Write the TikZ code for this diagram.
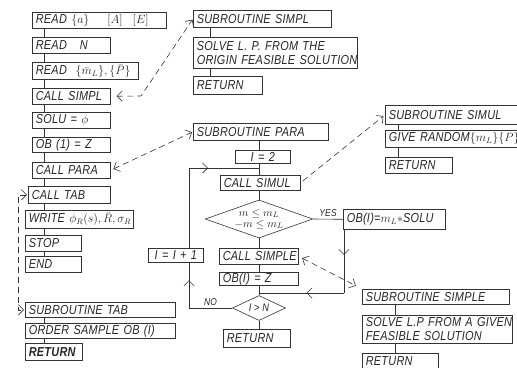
\documentclass[tikz,border=0pt]{standalone}
\usepackage{fontspec}
\newfontfamily\handfont{Liberation Sans}[FakeStretch=0.84,LetterSpace=2]
\usetikzlibrary{arrows.meta,shapes.geometric,decorations.markings}
\newcommand{\handtxt}{\handfont\itshape\fontsize{13}{14}\selectfont}
\newcommand{\mth}[1]{{\fontsize{12}{13}\selectfont$#1$}}

\begin{document}
\begin{tikzpicture}[x=1pt,y=-1pt,
>={Straight Barb[length=1.8mm]},
ink/.style={draw=black!80,line width=0.6pt},
box/.style={ink,text=black!85,anchor=north west,inner xsep=3.5pt,inner ysep=0pt,align=left,font=\handtxt,minimum height=16pt},
cond/.style={ink,text=black!85,diamond,aspect=3,inner sep=0pt,align=center,font=\handfont\itshape\fontsize{11}{11}\selectfont},
call/.style={ink,dash pattern=on 6pt off 4pt},
tag/.style={text=black!85,font=\handfont\itshape\fontsize{10}{10}\selectfont,inner sep=2pt},
flow/.style={ink,postaction={decorate},decoration={markings,mark=at position #1 with {\arrow{>}}}}
]
\useasboundingbox (0,0) rectangle (517,367);

% main program
\node[box,text width=127pt] (rda) at (32,12) {\mbox{READ \mth{\{a\}}\hspace{18pt}\mth{[A]}\hspace{10pt}\mth{[E]}}};
\node[box,text width=71pt] (rdn) at (32,37) {READ \ \ N};
\node[box,text width=99pt,minimum height=17pt] (rdm) at (32,62) {\mbox{READ \ \mth{\{\bar m_L\},\{\bar P\}}}};
\node[box,text width=71pt] (csimpl) at (32,88) {\mbox{CALL SIMPL}};
\node[box,text width=71pt] (solu) at (32,112) {SOLU = \mth{\phi}};
\node[box,text width=71pt,minimum height=15pt] (ob1) at (32,137) {\mbox{OB (1) = Z}};
\node[box,text width=71pt] (cpara) at (32,162) {\mbox{CALL PARA}};
\node[box,text width=75pt,minimum height=17pt] (ctab) at (28,186) {CALL TAB};
\node[box,text width=101pt,minimum height=18pt] (wrt) at (25,210) {\mbox{WRITE \mth{\phi_R(s),\bar R,\sigma_R}}};
\node[box,text width=49pt] (stop) at (25,235) {STOP};
\node[box,text width=49pt] (fin) at (25,256) {END};

% subroutine TAB
\node[box,text width=143pt,minimum height=15pt] (stab) at (25,302) {\mbox{SUBROUTINE TAB}};
\node[box,text width=143pt,minimum height=15pt] (order) at (25,323) {\mbox{ORDER SAMPLE OB (I)}};
\node[box,text width=50pt,minimum height=17pt] (rtab) at (25,343) {\textbf{RETURN}};

% subroutine SIMPL
\node[box,text width=131pt,minimum height=17pt] (ssimpl) at (193,10) {\mbox{SUBROUTINE SIMPL}};
\node[box,text width=157pt,minimum height=31pt] (solve1) at (193,37) {\mbox{SOLVE L. P. FROM THE}\\\mbox{ORIGIN FEASIBLE SOLUTION}};
\node[box,text width=62pt,minimum height=18pt] (rsimpl) at (193,76) {RETURN};

% subroutine PARA
\node[box,text width=128pt,minimum height=17pt] (spara) at (193,123) {\mbox{SUBROUTINE PARA}};
\node[box,text width=48pt,minimum height=13pt,align=center] (i2) at (235,150) {I = 2};
\node[box,text width=73pt,minimum height=15pt] (csimul) at (220,175) {\mbox{CALL SIMUL}};
\node[cond,minimum width=105pt,minimum height=38pt] (lim) at (259,219) {$m\le m_L$\\$-m\le m_L$};
\node[box,text width=95pt,minimum height=20pt] (obm) at (343,209) {\mbox{OB(I)=\mth{m_L\ast}SOLU}};
\node[box,text width=72pt] (csimple) at (219,248) {\mbox{CALL SIMPLE}};
\node[box,text width=72pt,minimum height=13pt] (obz) at (219,272) {\mbox{OB(I) = Z}};
\node[cond,aspect=2.1,minimum width=53pt,minimum height=25pt] (last) at (259,308) {I > N};
\node[box,text width=60pt,minimum height=18pt] (rpara) at (223,329) {RETURN};
\node[box,text width=48pt,minimum height=14pt,align=center] (inc) at (148,248) {\mbox{I = I + 1}};

% subroutine SIMUL
\node[box,text width=128pt,minimum height=19pt] (ssimul) at (385,105) {\mbox{SUBROUTINE SIMUL}};
\node[box,text width=128pt,minimum height=17pt] (give) at (385,130) {\mbox{GIVE RANDOM\mth{\{m_L\}\{P\}}}};
\node[box,text width=60pt] (rsimul) at (385,157) {RETURN};

% subroutine SIMPLE
\node[box,text width=140pt,minimum height=15pt] (ssimple) at (362,289) {\mbox{SUBROUTINE SIMPLE}};
\node[box,text width=143pt,minimum height=28pt] (solve2) at (362,315) {\mbox{SOLVE L.P FROM A GIVEN}\\\mbox{FEASIBLE SOLUTION}};
\node[box,text width=69pt,minimum height=15pt] (rsimple) at (362,353) {RETURN};

% trunks
\coordinate (tM) at (44,0);
\coordinate (tS) at (210,0);
\coordinate (tP) at (259,0);
\coordinate (tU) at (398,0);
\coordinate (tE) at (395,0);
\foreach \a/\b in {rda/rdn,rdn/rdm,rdm/csimpl,csimpl/solu,solu/ob1,ob1/cpara,cpara/ctab,ctab/wrt,wrt/stop,stop/fin,stab/order,order/rtab}
  \draw[ink] (\a.south -| tM) -- (\b.north -| tM);
\foreach \a/\b in {ssimpl/solve1,solve1/rsimpl}
  \draw[ink] (\a.south -| tS) -- (\b.north -| tS);
\foreach \a/\b in {spara/i2,i2/csimul,csimul/lim,lim/csimple,csimple/obz,obz/last,last/rpara}
  \draw[ink] (\a.south -| tP) -- (\b.north -| tP);
\foreach \a/\b in {ssimul/give,give/rsimul}
  \draw[ink] (\a.south -| tU) -- (\b.north -| tU);
\foreach \a/\b in {ssimple/solve2,solve2/rsimple}
  \draw[ink] (\a.south -| tE) -- (\b.north -| tE);

% branches of PARA
\coordinate (jn) at (259,293);
\coordinate (yd) at (344,0);
\coordinate (lx) at (189,0);
\coordinate (lt) at (259,168);
\draw[ink] (lim.east) -- node[tag,above] {YES} (obm.west);
\draw[flow=0.4] (yd |- obm.south) -- (yd |- jn);
\draw[flow=0.44] (yd |- jn) -- (jn);
\draw[flow=0.8] (last.west) -- node[tag,above] {NO} (last.west -| lx) -- (lx |- inc.south);
\draw[flow=0.66] (lx |- inc.north) -- (lx |- lt) -- (lt);

% calls
\coordinate (ks) at (141,96);
\coordinate (dx) at (18,0);
\draw[call,<->,shorten <=6pt,shorten >=1pt] (csimpl.east) -- (ks) -- (ssimpl.west);
\draw[call,<->,shorten <=3pt,shorten >=1pt] (cpara.east) -- (spara.west);
\draw[call,->,shorten <=3pt,shorten >=2pt] (csimul.east) -- (ssimul.west);
\draw[call,<->,shorten <=4pt,shorten >=7pt] (csimple.east) -- (ssimple.north west);
\draw[call,<->,shorten <=1pt,shorten >=1pt] (ctab.west) -- (ctab.west -| dx) -- (stab.west -| dx) -- (stab.west);
\end{tikzpicture}
\end{document}
